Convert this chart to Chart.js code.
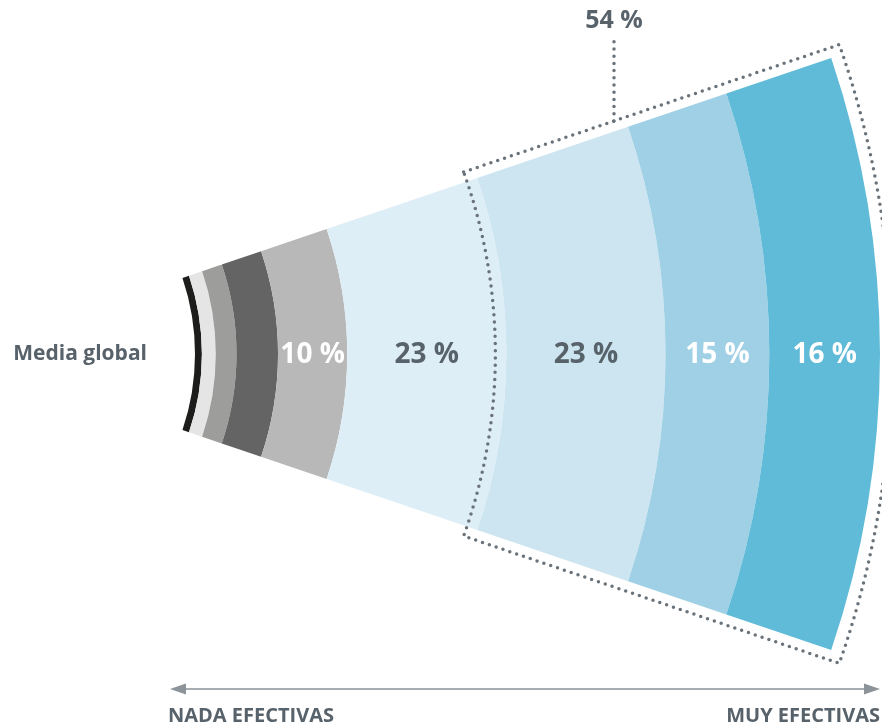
<!DOCTYPE html>
<html lang="es">
<head>
<meta charset="utf-8">
<script src="https://cdn.jsdelivr.net/npm/chart.js@4.4.1/dist/chart.umd.min.js"></script>
<style>
  html, body { margin: 0; padding: 0; background: #fff; }
  #wrap { position: relative; width: 882px; height: 723px; }
</style>
</head>
<body>
<div id="wrap"><canvas id="grafico"></canvas></div>
<script>
// Bandas de dentro hacia fuera (% de respuestas, de "nada" a "muy" efectivas)
const bandas = ['Nada 1', 'Nada 2', 'Poco 1', 'Poco 2', 'Algo', 'Bastante 1', 'Bastante 2', 'Muy 1', 'Muy 2'];
const porcentajes = [1, 2, 3, 6, 10, 23, 23, 15, 16];
const etiquetas = ['', '', '', '', '10 %', '23 %', '23 %', '15 %', '16 %'];
const grupoEtiqueta = '54 %';      // suma de las tres bandas exteriores
const grupoDesde = 6;              // primera banda del grupo
const filaEtiqueta = 'Media global';
const ejeIzq = 'NADA EFECTIVAS';
const ejeDer = 'MUY EFECTIVAS';

const colores = ['#1d1d1b', '#e5e5e5', '#9d9d9c', '#646464', '#b8b8b8', '#deeef7', '#cde5f0', '#a0d0e5', '#60bbd8'];
const coloresTexto = ['', '', '', '', '#ffffff', '#58626a', '#58626a', '#ffffff', '#ffffff'];

const gris = '#58626a';
const punteado = '#6b737a';
const semiAngulo = 18.73;   // grados
const radioExt = 922;       // px
const fuente = '"Open Sans", "DejaVu Sans", sans-serif';

// dataset 0 es el anillo exterior en Chart.js
const datasets = porcentajes.map((p, i) => ({
  label: bandas[i],
  data: [p],
  weight: p,
  backgroundColor: colores[i],
  borderWidth: 0,
})).reverse();

const n = porcentajes.length;
const arco = (chart, i) => chart.getDatasetMeta(n - 1 - i).data[0];

const pluginAnotaciones = {
  id: 'anotaciones',
  afterDatasetsDraw(chart) {
    const { ctx } = chart;
    const ext = arco(chart, n - 1);
    const cx = ext.x, cy = ext.y;
    const ini = ext.startAngle, fin = ext.endAngle;

    ctx.save();

    // etiquetas de cada banda
    ctx.font = 'bold 28px ' + fuente;
    ctx.textAlign = 'center';
    ctx.textBaseline = 'middle';
    etiquetas.forEach((txt, i) => {
      if (!txt) return;
      const a = arco(chart, i);
      ctx.fillStyle = coloresTexto[i];
      ctx.fillText(txt, a.x + (a.innerRadius + a.outerRadius) / 2, a.y + 1);
    });

    // contorno punteado del grupo "muy efectivas"
    const d = 10;
    const rIn = arco(chart, grupoDesde).innerRadius - 11;
    const rOut = ext.outerRadius + 12;
    const fIn = Math.atan(d / Math.sqrt(rIn * rIn - d * d));
    const fOut = Math.atan(d / Math.sqrt(rOut * rOut - d * d));
    ctx.strokeStyle = punteado;
    ctx.lineWidth = 3.5;
    ctx.lineCap = 'round';
    ctx.setLineDash([0, 7.2]);
    ctx.beginPath();
    ctx.arc(cx, cy, rIn, ini - fIn, ini - fIn);
    ctx.lineTo(cx + rOut * Math.cos(ini - fOut), cy + rOut * Math.sin(ini - fOut));
    ctx.arc(cx, cy, rOut, ini - fOut, fin + fOut);
    ctx.lineTo(cx + rIn * Math.cos(fin + fIn), cy + rIn * Math.sin(fin + fIn));
    ctx.arc(cx, cy, rIn, fin + fIn, ini - fIn, true);
    ctx.stroke();

    // linea guia hasta el 54 %
    const xg = 614;
    const ux = Math.cos(ini), uy = Math.sin(ini);
    const nx = uy, ny = -ux;
    const r = (xg - cx - d * nx) / ux;
    const yg = cy + r * uy + d * ny;
    ctx.beginPath();
    ctx.moveTo(xg, yg);
    ctx.lineTo(xg, 38);
    ctx.stroke();
    ctx.setLineDash([]);

    ctx.fillStyle = gris;
    ctx.font = 'bold 25px ' + fuente;
    ctx.textBaseline = 'alphabetic';
    ctx.fillText(grupoEtiqueta, xg, 28);

    // etiqueta de fila
    ctx.font = 'bold 21px ' + fuente;
    ctx.textAlign = 'right';
    ctx.textBaseline = 'middle';
    ctx.fillText(filaEtiqueta, 147, cy);

    // eje inferior con flechas
    const xa = 170, xb = cx + ext.outerRadius, ya = 689;
    ctx.strokeStyle = '#8c9399';
    ctx.fillStyle = '#8c9399';
    ctx.lineWidth = 1.6;
    ctx.beginPath();
    ctx.moveTo(xa + 10, ya);
    ctx.lineTo(xb - 10, ya);
    ctx.stroke();
    [[xa, 1], [xb, -1]].forEach(([x, s]) => {
      ctx.beginPath();
      ctx.moveTo(x, ya);
      ctx.lineTo(x + s * 16, ya - 5.5);
      ctx.lineTo(x + s * 16, ya + 5.5);
      ctx.closePath();
      ctx.fill();
    });

    ctx.fillStyle = gris;
    ctx.font = 'bold 20px ' + fuente;
    ctx.textBaseline = 'alphabetic';
    ctx.textAlign = 'left';
    ctx.fillText(ejeIzq, 168, 722);
    ctx.textAlign = 'right';
    ctx.fillText(ejeDer, xb, 722);

    ctx.restore();
  }
};

// centro del abanico fuera del lienzo: se ajusta con el padding del area
const cutoutFrac = 237 / radioExt;
const h = semiAngulo * Math.PI / 180;
const centroX = -42;
const medioX = centroX + radioExt * (1 + cutoutFrac * Math.cos(h)) / 2;

new Chart(document.getElementById('grafico'), {
  type: 'doughnut',
  data: { labels: ['valor'], datasets },
  plugins: [pluginAnotaciones],
  options: {
    responsive: true,
    maintainAspectRatio: false,
    animation: false,
    rotation: 90 - semiAngulo,
    circumference: semiAngulo * 2,
    cutout: (cutoutFrac * 100) + '%',
    radius: radioExt,
    layout: { padding: { left: 2 * medioX - 882, right: 0, top: 0, bottom: 15 } },
    plugins: { legend: { display: false }, tooltip: { enabled: false } },
    datasets: { doughnut: { clip: false } },
  }
});
</script>
</body>
</html>
